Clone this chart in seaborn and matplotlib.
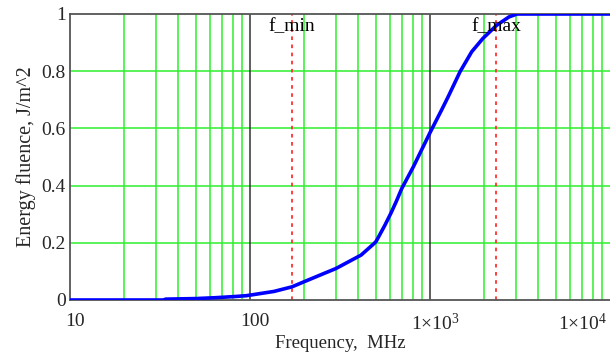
import numpy as np
import pandas as pd
import matplotlib
matplotlib.use("Agg")
import matplotlib.pyplot as plt
import matplotlib.transforms as mtransforms
import seaborn as sns
from matplotlib.ticker import FixedLocator, FixedFormatter, NullLocator

# Data
freq_mhz = [10, 20, 33, 34, 50, 64, 82, 95, 100, 136, 171, 200, 258, 300, 400, 414,
            490, 502, 560, 607, 650, 697, 807, 1000, 1161, 1260, 1468, 1705, 1970,
            2340, 2750, 3050, 3500, 5000, 10000]
fluence = [0.0, 0.0, 0.0, 0.003, 0.005, 0.008, 0.012, 0.015, 0.017, 0.03, 0.046,
           0.064, 0.093, 0.11, 0.152, 0.157, 0.198, 0.205, 0.26, 0.304, 0.345, 0.39,
           0.465, 0.585, 0.665, 0.71, 0.798, 0.868, 0.915, 0.96, 0.99, 1.0, 1.0, 1.0,
           1.0]
f_min = 171
f_max = 2330
x_ticks = [10, 100, 1000, 10000]
x_tick_labels = ["10", "100", r"1×10$^{3}$", r"1×10$^{4}$"]
y_ticks = [0, 0.2, 0.4, 0.6, 0.8, 1.0]
y_tick_labels = ["0", "0.2", "0.4", "0.6", "0.8", "1"]

df = pd.DataFrame({"f": freq_mhz, "E": fluence})

sns.set_theme(style="white")
plt.rcParams["font.family"] = ["Liberation Serif", "DejaVu Serif"]
plt.rcParams["mathtext.fontset"] = "custom"
plt.rcParams["mathtext.rm"] = "Liberation Serif"
plt.rcParams["mathtext.it"] = "Liberation Serif:italic"

fig = plt.figure(figsize=(6.10, 3.55), dpi=100)
ax = fig.add_axes([70 / 610, 55 / 355, 540 / 610, 286 / 355])

ax.set_xscale("log")
ax.set_xlim(10, 10000)
ax.set_ylim(0, 1)

# grid
green = "#2df02d"
for dec in [10, 100, 1000]:
    for m in range(2, 10):
        ax.axvline(dec * m, color=green, lw=1.1, zorder=1)
for dec in [100, 1000]:
    ax.axvline(dec, color="#333333", lw=1.1, zorder=1.5)
for yv in [0.2, 0.4, 0.6, 0.8]:
    ax.axhline(yv, color=green, lw=1.1, zorder=1)

# markers f_min / f_max
for fv, name in [(f_min, "f_min"), (f_max, "f_max")]:
    ax.axvline(fv, color="#ff3030", lw=1.3, ls=(0, (2, 2.5)), zorder=2)
    ax.text(fv, 0.955, name, ha="center", va="center", fontsize=14, color="black", zorder=4)

sns.lineplot(data=df, x="f", y="E", ax=ax, color="#0000ff", lw=2.6, zorder=3)

ax.xaxis.set_major_locator(FixedLocator(x_ticks))
ax.xaxis.set_major_formatter(FixedFormatter(x_tick_labels))
ax.xaxis.set_minor_locator(NullLocator())
ax.set_yticks(y_ticks)
ax.set_yticklabels(y_tick_labels)
ax.tick_params(axis="x", length=0, pad=9, labelsize=14)
ax.tick_params(axis="y", length=0, pad=3, labelsize=14)

# shift x tick labels slightly right, keep last inside the figure
offset = mtransforms.ScaledTranslation(5 / 100, 0, fig.dpi_scale_trans)
labels = ax.get_xticklabels()
for lab in labels:
    lab.set_transform(lab.get_transform() + offset)
labels[-1].set_ha("right")
labels[-1].set_transform(labels[-1].get_transform()
                         + mtransforms.ScaledTranslation(-8 / 100, 0, fig.dpi_scale_trans))

for s in ["left", "bottom", "top"]:
    ax.spines[s].set_color("#555555")
    ax.spines[s].set_linewidth(1.3)
ax.spines["right"].set_visible(False)

ax.set_xlabel("Frequency,  MHz", fontsize=13.5, labelpad=1)
ax.set_ylabel("Energy fluence, J/m^2", fontsize=14.5, labelpad=4)

fig.savefig("out.png", dpi=100)
